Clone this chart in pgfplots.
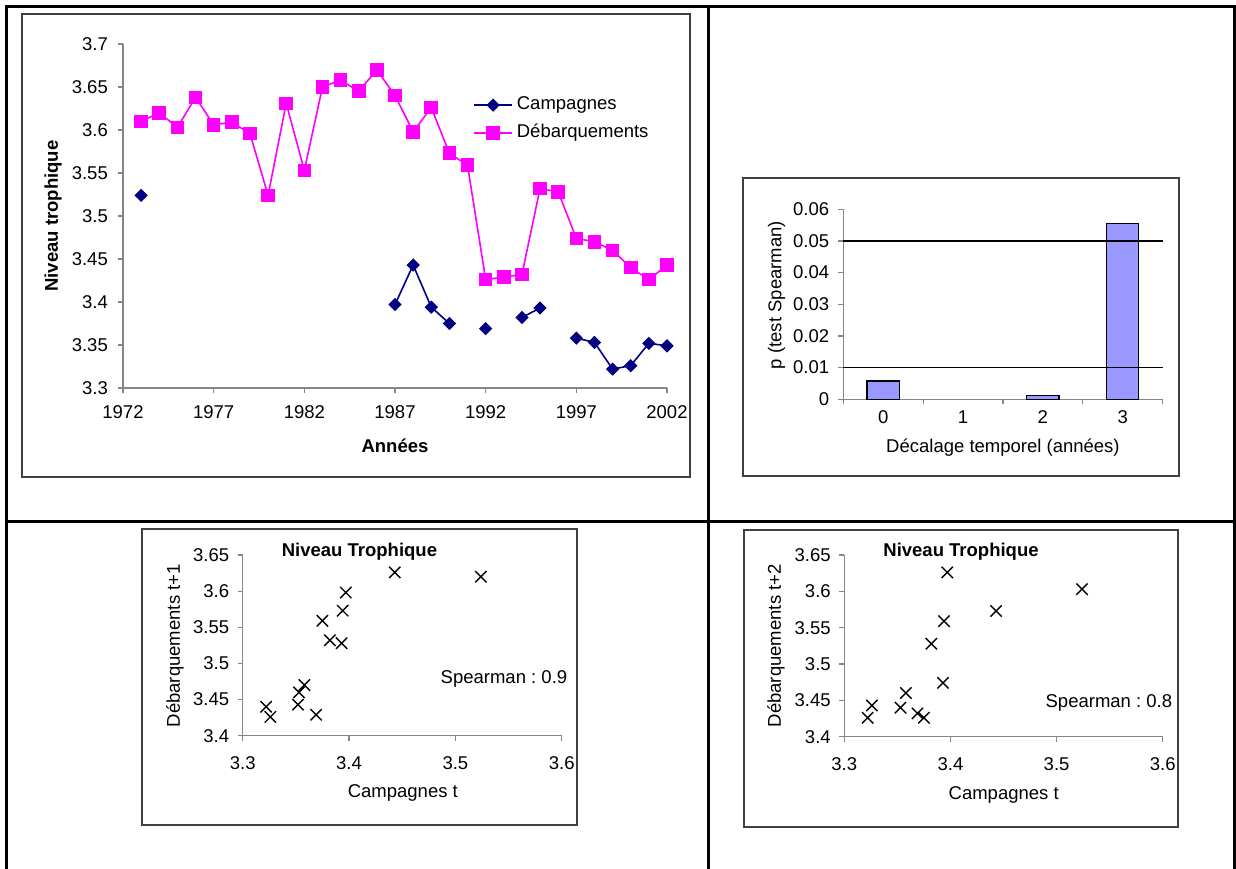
\documentclass[border=0pt]{standalone}
\usepackage{pgfplots}
\usepackage{pgfplotstable}
\pgfplotsset{compat=1.18}
\usepackage{fontspec}
\setmainfont{Liberation Sans}
\frenchspacing
\definecolor{navyc}{HTML}{000080}
\definecolor{magc}{HTML}{FF00FF}
\definecolor{barc}{HTML}{9999FF}
\definecolor{axc}{HTML}{868686}
\definecolor{framec}{HTML}{404040}
\newcommand\fs{\fontsize{18.5}{22}\selectfont}

\pgfplotstableread{
year camp deb
1973 3.524 3.610
1974 nan 3.620
1975 nan 3.603
1976 nan 3.638
1977 nan 3.606
1978 nan 3.609
1979 nan 3.596
1980 nan 3.524
1981 nan 3.631
1982 nan 3.553
1983 nan 3.650
1984 nan 3.658
1985 nan 3.645
1986 nan 3.670
1987 3.397 3.640
1988 3.443 3.598
1989 3.394 3.626
1990 3.375 3.573
1991 nan 3.559
1992 3.369 3.426
1993 nan 3.429
1994 3.382 3.432
1995 3.393 3.532
1996 nan 3.528
1997 3.358 3.474
1998 3.353 3.470
1999 3.322 3.460
2000 3.326 3.440
2001 3.352 3.426
2002 3.349 3.443
}\tsdata

\pgfplotstableread{
lag p
0 0.0058
2 0.0013
3 0.0556
}\pdata

\pgfplotstableread{
c d
3.524 3.620
3.397 3.598
3.443 3.626
3.394 3.573
3.375 3.559
3.369 3.429
3.382 3.532
3.393 3.528
3.358 3.470
3.353 3.460
3.322 3.440
3.326 3.426
3.352 3.443
}\lagone

\pgfplotstableread{
c d
3.524 3.603
3.397 3.626
3.443 3.573
3.394 3.559
3.375 3.426
3.369 3.432
3.382 3.528
3.393 3.474
3.358 3.460
3.353 3.440
3.322 3.426
3.326 3.443
}\lagtwo

\pgfplotsset{
  mystyle/.style={
    scale only axis,
    anchor=south west,
    axis lines=left,
    axis line style={-, draw=axc, line width=1.2pt},
    tick align=outside,
    major tick length=5pt,
    minor tick length=5pt,
    tick style={draw=axc, line width=1.2pt},
    tick label style={font=\fs},
    /pgf/number format/assume math mode=true,
    label style={font=\fs},
    clip=false,
  }
}

\begin{document}
\begin{tikzpicture}[x=1pt,y=1pt]
\useasboundingbox (0,0) rectangle (1236,868);
% outer table lines
\draw[line width=3pt] (6,-2) -- (6,861) -- (1234,861) -- (1234,-2);
\draw[line width=3pt] (708,-2) -- (708,861);
\draw[line width=3pt] (6,346) -- (1234,346);
% chart frames
\draw[framec, line width=1.5pt] (22,854) rectangle (690,391);
\draw[framec, line width=1.5pt] (743,690) rectangle (1179,392);
\draw[framec, line width=1.5pt] (142,339) rectangle (577,43);
\draw[framec, line width=1.5pt] (744,338) rectangle (1178,41);

% ---------------- top left: time series
\begin{axis}[mystyle,
  at={(123pt,480pt)}, width=544pt, height=344pt,
  xmin=1972, xmax=2002, ymin=3.3, ymax=3.7,
  xtick={1972,1977,1982,1987,1992,1997,2002},
  ytick={3.3,3.35,3.4,3.45,3.5,3.55,3.6,3.65,3.7},
  xticklabel style={/pgf/number format/1000 sep={}, anchor=north, inner sep=0pt, yshift=-12.5pt},
  yticklabel style={/pgf/number format/fixed, /pgf/number format/precision=2, anchor=east, inner sep=0pt, xshift=-10pt},
  xlabel={Années}, ylabel={Niveau trophique},
  xlabel style={at={(axis description cs:0.5,-0.1686)}, anchor=center, font=\fs\bfseries},
  ylabel style={at={(axis description cs:-0.1287,0.5)}, anchor=center, font=\fs\bfseries},
  legend style={draw=none, fill=none, at={(axis description cs:0.638,0.782)}, anchor=west,
    font=\fs, nodes={inner sep=0pt, text height=13pt, text depth=4pt}, row sep=10.7pt, column sep=4pt},
  legend cell align=left,
  legend image code/.code={\draw[mark repeat=2,mark phase=2,#1] plot coordinates {(0pt,0pt) (19pt,0pt) (38pt,0pt)};},
]
\addplot[navyc, line width=1.6pt, mark=square*, mark size=3.9pt, mark options={rotate=45, solid, fill=navyc}, unbounded coords=jump] table[x=year, y=camp] {\tsdata};
\addlegendentry{Campagnes}
\addplot[magc, line width=1.6pt, mark=square*, mark size=6pt, mark options={solid, fill=magc}] table[x=year, y=deb] {\tsdata};
\addlegendentry{Débarquements}
\end{axis}

% ---------------- top right: bars
\begin{axis}[mystyle,
  at={(843.3pt,468.7pt)}, width=319.3pt, height=190pt,
  xmin=-0.5, xmax=3.5, ymin=0, ymax=0.06,
  xtick={0,1,2,3},
  major x tick style={draw=none},
  minor xtick={-0.5,0.5,1.5,2.5,3.5},
  ytick={0,0.01,0.02,0.03,0.04,0.05,0.06},
  scaled y ticks=false,
  xticklabel style={anchor=north, inner sep=0pt, yshift=-6.4pt},
  yticklabel style={/pgf/number format/fixed, /pgf/number format/precision=2, anchor=east, inner sep=0pt, xshift=-9pt},
  xlabel={Décalage temporel (années)}, ylabel={p (test Spearman)},
  xlabel style={at={(axis description cs:0.5,-0.256)}, anchor=center},
  ylabel style={at={(axis description cs:-0.2086,0.549)}, anchor=center},
]
\addplot[ybar, bar width=32.3pt, bar shift=0pt, fill=barc, draw=black, line width=1.2pt] table[x=lag, y=p] {\pdata};
\addplot[black, line width=1.2pt] coordinates {(-0.5,0.05) (3.5,0.05)};
\addplot[black, line width=1.2pt] coordinates {(-0.5,0.01) (3.5,0.01)};
\end{axis}

% ---------------- bottom left: scatter t+1
\begin{axis}[mystyle,
  at={(242.7pt,132.3pt)}, width=319pt, height=180.7pt,
  xmin=3.3, xmax=3.6, ymin=3.4, ymax=3.65,
  xtick={3.3,3.4,3.5,3.6},
  ytick={3.4,3.45,3.5,3.55,3.6,3.65},
  xticklabel style={/pgf/number format/fixed, /pgf/number format/precision=2, anchor=north, inner sep=0pt, yshift=-16pt},
  yticklabel style={/pgf/number format/fixed, /pgf/number format/precision=2, anchor=east, inner sep=0pt, xshift=-8.4pt},
  xlabel={Campagnes t}, ylabel={Débarquements t+1},
  xlabel style={at={(axis description cs:0.502,-0.319)}, anchor=center},
  ylabel style={at={(axis description cs:-0.212,0.4975)}, anchor=center},
]
\addplot[only marks, mark=x, mark size=8pt, line width=1.4pt, black] table[x=c, y=d] {\lagone};
\node[font=\fs\bfseries] at (axis description cs:0.366,1.018) {Niveau Trophique};
\node[font=\fs] at (axis description cs:0.819,0.314) {Spearman : 0.9};
\end{axis}

% ---------------- bottom right: scatter t+2
\begin{axis}[mystyle,
  at={(844.3pt,131.3pt)}, width=318.4pt, height=181.7pt,
  xmin=3.3, xmax=3.6, ymin=3.4, ymax=3.65,
  xtick={3.3,3.4,3.5,3.6},
  ytick={3.4,3.45,3.5,3.55,3.6,3.65},
  xticklabel style={/pgf/number format/fixed, /pgf/number format/precision=2, anchor=north, inner sep=0pt, yshift=-16pt},
  yticklabel style={/pgf/number format/fixed, /pgf/number format/precision=2, anchor=east, inner sep=0pt, xshift=-8.4pt},
  xlabel={Campagnes t}, ylabel={Débarquements t+2},
  xlabel style={at={(axis description cs:0.5006,-0.321)}, anchor=center},
  ylabel style={at={(axis description cs:-0.2145,0.5)}, anchor=center},
]
\addplot[only marks, mark=x, mark size=8pt, line width=1.4pt, black] table[x=c, y=d] {\lagtwo};
\node[font=\fs\bfseries] at (axis description cs:0.3665,1.018) {Niveau Trophique};
\node[font=\fs] at (axis description cs:0.831,0.187) {Spearman : 0.8};
\end{axis}
\end{tikzpicture}
\end{document}
